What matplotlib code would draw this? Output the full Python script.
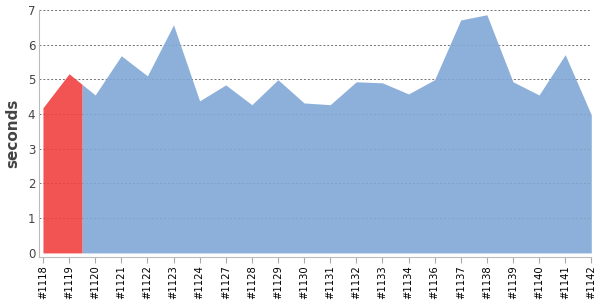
import matplotlib
matplotlib.use('Agg')
import matplotlib.pyplot as plt
import numpy as np

builds = ['#1118', '#1119', '#1120', '#1121', '#1122', '#1123', '#1124', '#1127',
          '#1128', '#1129', '#1130', '#1131', '#1132', '#1133', '#1134', '#1136',
          '#1137', '#1138', '#1139', '#1140', '#1141', '#1142']
seconds = [4.18, 5.16, 4.55, 5.68, 5.10, 6.57, 4.38, 4.84, 4.27, 4.99, 4.32,
           4.27, 4.93, 4.90, 4.58, 4.99, 6.71, 6.86, 4.93, 4.55, 5.71, 3.98]
n_failed = 2  # first builds highlighted in red

red = '#f14141'
blue = '#81a8d6'
grey = '#444444'

x = np.arange(len(builds), dtype=float)
v = np.array(seconds)
split = n_failed - 0.5
mid = (v[n_failed - 1] + v[n_failed]) / 2

fig = plt.figure(figsize=(6, 3), dpi=100)
ax = fig.add_axes([0.0655, 0.143, 0.92, 0.824])

# grid sits under a slightly see-through fill
for yv in range(1, 8):
    ax.axhline(yv, color='#444444', linestyle=(0, (2, 2)), linewidth=0.7,
               alpha=0.75, zorder=1)

xr = np.append(x[:n_failed], split)
vr = np.append(v[:n_failed], mid)
xb = np.insert(x[n_failed:], 0, split)
vb = np.insert(v[n_failed:], 0, mid)
ax.fill_between(xr, 0, vr, color=red, alpha=0.9, linewidth=0, zorder=2)
ax.fill_between(xb, 0, vb, color=blue, alpha=0.9, linewidth=0, zorder=2)

ax.set_xlim(-0.14, len(builds) - 1)
ax.set_ylim(-0.12, 7)
ax.set_yticks(range(0, 8))
ax.set_xticks(x)
ax.set_xticklabels(builds, rotation=90, fontsize=7.2)
ax.tick_params(axis='y', labelsize=8.5, labelcolor=grey, length=0, pad=3)
ax.tick_params(axis='x', colors='#aaaaaa', labelcolor='black', length=4, pad=2)

for s in ['top', 'right']:
    ax.spines[s].set_visible(False)
for s in ['left', 'bottom']:
    ax.spines[s].set_color('#bbbbbb')

ax.set_ylabel('seconds', fontsize=11, fontweight='bold', color=grey, labelpad=5)

plt.savefig('out.png', dpi=100)
